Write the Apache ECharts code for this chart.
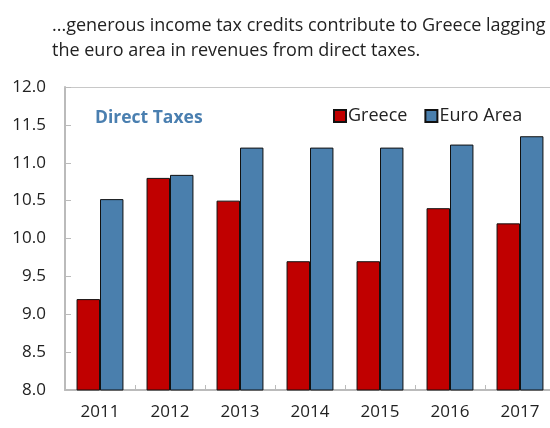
<!DOCTYPE html>
<html>
<head>
<meta charset="utf-8">
<script src="https://cdn.jsdelivr.net/npm/echarts@6/dist/echarts.min.js"></script>
<style>
html,body{margin:0;padding:0;background:#fff;}
#c{width:550px;height:428px;}
</style>
</head>
<body>
<div id="c"></div>
<script>
var categories = ['2011','2012','2013','2014','2015','2016','2017'];
var greece = [9.2, 10.8, 10.5, 9.7, 9.7, 10.4, 10.2];
var euroArea = [10.52, 10.84, 11.2, 11.2, 11.2, 11.24, 11.35];
var yTicks = ['8.0','8.5','9.0','9.5','10.0','10.5','11.0','11.5','12.0'];
var titleLines = ['...generous income tax credits contribute to Greece lagging', 'the euro area in revenues from direct taxes.'];

var font = '"Open Sans", "Noto Sans", sans-serif';
var chart = echarts.init(document.getElementById('c'), null, {renderer:'canvas'});
chart.setOption({
  animation: false,
  backgroundColor: '#fff',
  textStyle: {fontFamily: font},
  title: [{
    text: titleLines.join('\n'),
    left: 47, top: 8,
    textStyle: {fontFamily: font, fontSize: 18, fontWeight: 'normal', color: '#222', lineHeight: 25}
  },{
    text: 'Direct Taxes',
    left: 90, top: 104,
    textStyle: {fontFamily: font, fontSize: 17.5, fontWeight: 'bold', color: '#4a7fb0'}
  }],
  legend: {
    data: ['Greece','Euro Area'],
    left: 328, top: 102,
    itemWidth: 12, itemHeight: 12, itemGap: 17,
    textStyle: {fontFamily: font, fontSize: 18, color: '#222', padding: [0,0,0,-3]},
    icon: 'rect'
  },
  grid: {left: 65, top: 87, right: -5, height: 303, outerBoundsMode: 'none'},
  xAxis: [{
    type: 'category', data: categories,
    axisLine: {lineStyle: {color: '#bbb', width: 2}},
    axisTick: {show: true, inside: true, length: 5, lineStyle: {color: '#bbb'}},
    axisLabel: {fontFamily: font, fontSize: 17, color: '#222', margin: 14}
  },{
    type: 'category', data: categories, position: 'top',
    axisLine: {show: true, lineStyle: {color: '#c8c8c8', width: 1}},
    axisTick: {show: false}, axisLabel: {show: false}, splitLine: {show: false}
  }],
  yAxis: {
    type: 'value', min: 8, max: 12, interval: 0.5,
    axisLine: {show: true, lineStyle: {color: '#bbb', width: 2}},
    axisTick: {show: true, inside: true, length: 6, lineStyle: {color: '#bbb'}},
    splitLine: {show: false},
    axisLabel: {fontFamily: font, fontSize: 17, color: '#222', margin: 19,
      formatter: function(v){ var i = Math.round((v-8)/0.5); return yTicks[i]; }}
  },
  series: [{
    name: 'Greece', type: 'bar', data: greece,
    barGap: '0%', barCategoryGap: '33%',
    itemStyle: {color: '#c00000', borderColor: '#111', borderWidth: 1}
  },{
    name: 'Euro Area', type: 'bar', data: euroArea,
    itemStyle: {color: '#4a7fad', borderColor: '#111', borderWidth: 1}
  }]
});
</script>
</body>
</html>
